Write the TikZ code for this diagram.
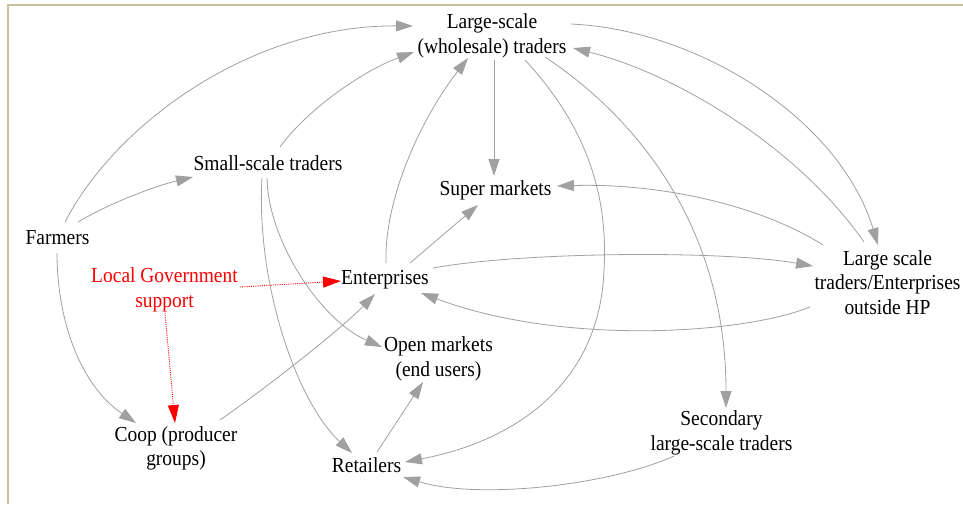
\documentclass[tikz,border=0pt]{standalone}
\usepackage{fontspec}
\setmainfont{Liberation Serif}
\newfontfamily\diagfont{Liberation Serif}[FakeStretch=0.91]
\usetikzlibrary{arrows.meta}
\definecolor{edgegray}{RGB}{160,160,160}
\definecolor{frametan}{RGB}{200,192,158}
\begin{document}
\begin{tikzpicture}[x=1pt,y=-1pt,
  lbl/.style={inner sep=0pt,align=center,font=\diagfont\fontsize{21.4}{24.5}\selectfont},
  redlbl/.style={lbl,text=red},
  flow/.style={draw=edgegray,line width=0.8pt,-{Triangle[length=17pt,width=11pt]},fill=none},
  supp/.style={draw=red,line width=0.9pt,dash pattern=on 1pt off 1.2pt,-{Triangle[length=18pt,width=11pt]}},
]
\useasboundingbox (0,0) rectangle (963,504);
\draw[frametan,line width=2pt] (7.5,504) -- (7.5,4.5) -- (963,4.5);

\node[lbl] (ls) at (492,36) {Large-scale\\(wholesale) traders};
\node[lbl] (small) at (268,163) {Small-scale traders};
\node[lbl] (super) at (495.5,190) {Super markets};
\node[lbl] (farm) at (57.5,237.5) {Farmers};
\node[lbl] (ent) at (385,280) {Enterprises};
\node[redlbl] (lg) at (164.5,290) {Local Government\\support};
\node[lbl] (open) at (438.5,359) {Open markets\\(end users)};
\node[lbl] (coop) at (176,448.5) {Coop (producer\\groups)};
\node[lbl] (ret) at (366.5,465.5) {Retailers};
\node[lbl] (out) at (887.5,282.5) {Large scale\\traders/Enterprises\\outside HP};
\node[lbl] (sec) at (721.5,433) {Secondary\\large-scale traders};

% E1 Farmers -> Large-scale
\draw[flow] ([shift={(7.5,-15.5)}]farm.center) .. controls (115,125) and (250,25) .. ([shift={(-79,-10)}]ls.center);
% E2 Farmers -> Small-scale
\draw[flow] ([shift={(20.5,-15.5)}]farm.center) .. controls (110,203) and (155,186) .. ([shift={(-75,14)}]small.center);
% E3 Small -> Large-scale
\draw[flow] ([shift={(12,-16)}]small.center) .. controls (305,112) and (360,72) .. ([shift={(-78,16)}]ls.center);
% E4 Enterprises -> Large-scale
\draw[flow] ([shift={(1,-17)}]ent.center) .. controls (384,200) and (420,120) .. ([shift={(-24,22)}]ls.center);
% E5 Large-scale -> Super markets
\draw[flow] ([shift={(2,24)}]ls.center) -- ([shift={(-1.5,-14)}]super.center);
% E6 Enterprises -> Super markets
\draw[flow] ([shift={(25,-17)}]ent.center) -- ([shift={(-17.5,15)}]super.center);
% E7 Large-scale -> Retailers
\draw[flow] ([shift={(33,24)}]ls.center) .. controls (590,130) and (608,200) .. (604,270) .. controls (600,380) and (520,440) .. ([shift={(38.5,-3.5)}]ret.center);
% E8 Large-scale -> Secondary
\draw[flow] ([shift={(53,21)}]ls.center) .. controls (640,120) and (726,230) .. ([shift={(4.5,-25)}]sec.center);
% E9 Large-scale -> outside HP
\draw[flow] ([shift={(79,-12)}]ls.center) .. controls (700,30) and (840,120) .. ([shift={(-9.5,-37.5)}]out.center);
% E10 outside HP -> Large-scale
\draw[flow] ([shift={(-23.5,-40.5)}]out.center) .. controls (800,150) and (680,75) .. ([shift={(81,12)}]ls.center);
% E11 outside HP -> Super markets
\draw[flow] ([shift={(-64.5,-37.5)}]out.center) .. controls (760,205) and (660,183) .. ([shift={(61.5,-4)}]super.center);
% E12 Enterprises -> outside HP
\draw[flow] ([shift={(48,-12)}]ent.center) .. controls (520,252) and (720,250) .. ([shift={(-74.5,-16.5)}]out.center);
% E13 outside HP -> Enterprises
\draw[flow] ([shift={(-77.5,24.5)}]out.center) .. controls (740,335) and (560,345) .. ([shift={(36,13)}]ent.center);
% E14 Small -> Open markets
\draw[flow] ([shift={(-1,15)}]small.center) .. controls (268,240) and (320,320) .. ([shift={(-56.5,-12)}]open.center);
% E15 Small -> Retailers
\draw[flow] ([shift={(-6,15)}]small.center) .. controls (256,280) and (295,400) .. ([shift={(-14.5,-12.5)}]ret.center);
% E16 Retailers -> Open markets
\draw[flow] ([shift={(10.5,-13.5)}]ret.center) -- ([shift={(-15.5,23)}]open.center);
% E17 Coop -> Enterprises
\draw[flow] ([shift={(44,-28.5)}]coop.center) .. controls (270,385) and (340,330) .. ([shift={(-10,14)}]ent.center);
% E18 Farmers -> Coop
\draw[flow] ([shift={(-0.5,15.5)}]farm.center) .. controls (57,320) and (80,385) .. ([shift={(-40,-25.5)}]coop.center);
% E19 Secondary -> Retailers
\draw[flow] ([shift={(-47.5,23)}]sec.center) .. controls (610,485) and (480,500) .. ([shift={(36.5,11.5)}]ret.center);
% E20 Local Government -> Enterprises
\draw[supp] ([shift={(75.5,-3)}]lg.center) -- ([shift={(-44,1)}]ent.center);
% E21 Local Government -> Coop
\draw[supp] ([shift={(0.5,23)}]lg.center) -- ([shift={(-1,-25.5)}]coop.center);
\end{tikzpicture}
\end{document}
